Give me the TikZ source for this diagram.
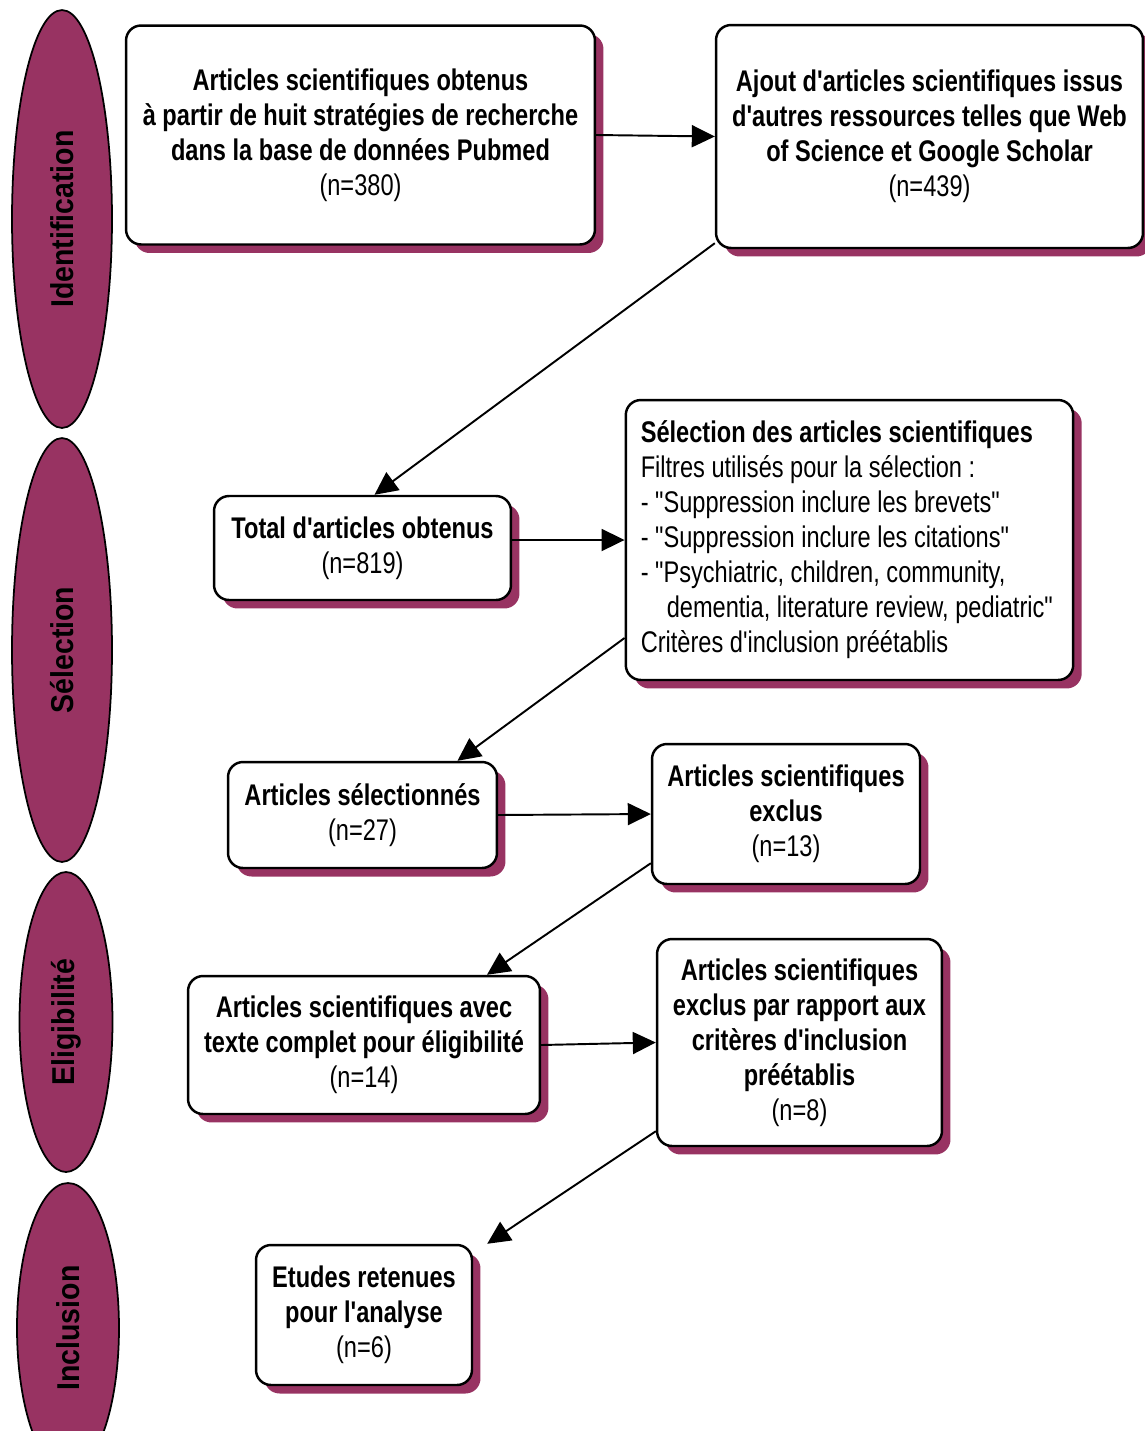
\documentclass[tikz,border=0pt]{standalone}
\usepackage{fontspec}
\setmainfont{Liberation Sans}[FakeStretch=0.79, Ligatures=TeXOff]
\newfontfamily\phasefont{Liberation Sans}[FakeStretch=0.9, Ligatures=TeXOff]
\usetikzlibrary{shapes.geometric,shadows,arrows.meta}
\definecolor{pr-plum}{RGB}{152, 51, 98}

\begin{document}
\begin{tikzpicture}[x=0.02cm, y=-0.02cm,
    box/.style={rectangle, rounded corners=0.3cm, draw=black, line width=1.4pt, fill=white, align=center, inner sep=0pt,
        font=\bfseries\fontsize{17}{19.9}\selectfont,
        drop shadow={shadow xshift=0.17cm, shadow yshift=-0.17cm, fill=pr-plum, opacity=1}},
    phase/.style={ellipse, fill=pr-plum, draw=black, line width=1pt, inner sep=0pt, rotate=90,
        font=\phasefont\bfseries\fontsize{18}{20}\selectfont},
    flow/.style={-{Triangle[length=0.46cm, width=0.44cm]}, line width=1.1pt}]
    \useasboundingbox (0,0) rectangle (1145,1431);

    \node[phase, minimum width=8.36cm, minimum height=2cm] (ph-id) at (62,219) {Identification};
    \node[phase, minimum width=8.48cm, minimum height=2cm] (ph-sel) at (62,650) {Sélection};
    \node[phase, minimum width=6cm, minimum height=1.86cm] (ph-elig) at (66,1022) {Eligibilité};
    \node[phase, minimum width=5.8cm, minimum height=2.04cm] (ph-incl) at (68,1328) {Inclusion};

    \node[box, minimum width=9.38cm, minimum height=4.38cm] (pubmed) at (360.5,135)
        {Articles scientifiques obtenus\\à partir de huit stratégies de recherche\\dans la base de données Pubmed\\\mdseries (n=380)};
    \node[box, minimum width=8.54cm, minimum height=4.46cm] (others) at (929.5,136.5)
        {Ajout d'articles scientifiques issus\\d'autres ressources telles que Web\\of Science et Google Scholar\\\mdseries (n=439)};
    \node[box, minimum width=5.94cm, minimum height=2.08cm] (total) at (362.5,548)
        {Total d'articles obtenus\\\mdseries (n=819)};
    \node[box, minimum width=8.9cm, minimum height=5.6cm, align=flush left, text width=8.35cm, inner xsep=0.3cm] (filters) at (849.5,540)
        {Sélection des articles scientifiques\\\mdseries Filtres utilisés pour la sélection :\\- "Suppression inclure les brevets"\\- "Suppression inclure les citations"\\- "Psychiatric, children, community,\\\hspace*{0.52cm}dementia, literature review, pediatric"\\Critères d'inclusion préétablis};
    \node[box, minimum width=5.38cm, minimum height=2.12cm] (chosen) at (362.5,815)
        {Articles sélectionnés\\\mdseries (n=27)};
    \node[box, minimum width=5.36cm, minimum height=2.8cm] (excl-a) at (786,814)
        {Articles scientifiques\\exclus\\\mdseries (n=13)};
    \node[box, minimum width=7.04cm, minimum height=2.76cm] (fulltext) at (364,1045)
        {Articles scientifiques avec\\texte complet pour éligibilité\\\mdseries (n=14)};
    \node[box, minimum width=5.7cm, minimum height=4.14cm] (excl-b) at (799.5,1042.5)
        {Articles scientifiques\\exclus par rapport aux\\critères d'inclusion\\préétablis\\\mdseries (n=8)};
    \node[box, minimum width=4.32cm, minimum height=2.8cm] (kept) at (364,1315)
        {Etudes retenues\\pour l'analyse\\\mdseries (n=6)};

    \draw[flow] (pubmed.east) -- (others.west);
    \draw[flow] ([yshift=0.12cm]others.south west) -- ([xshift=0.24cm]total.north);
    \draw[flow] (total.east |- filters.west) -- (filters.west);
    \draw[flow] ([yshift=-1.96cm]filters.west) -- ([xshift=1.9cm]chosen.north);
    \draw[flow] (chosen.east) -- (excl-a.west);
    \draw[flow] ([yshift=0.44cm]excl-a.south west) -- ([xshift=2.46cm]fulltext.north);
    \draw[flow] (fulltext.east) -- (excl-b.west);
    \draw[flow] ([yshift=0.32cm]excl-b.south west) -- ([xshift=0.28cm]kept.north east);
\end{tikzpicture}
\end{document}
